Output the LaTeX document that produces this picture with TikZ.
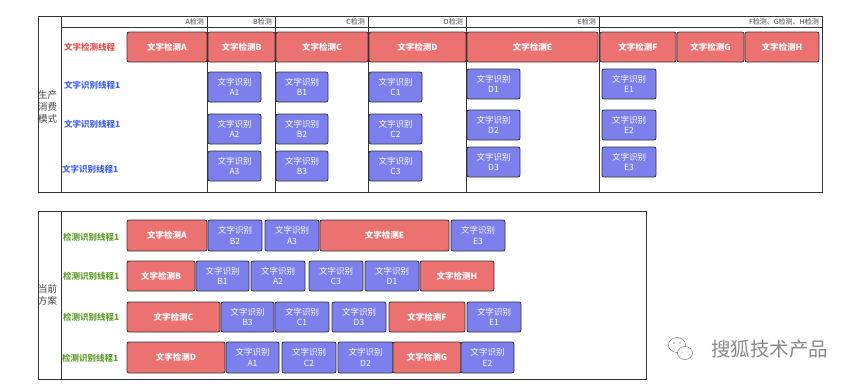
\documentclass[tikz,border=0pt]{standalone}
\usepackage{fontspec}
\setmainfont{Noto Sans CJK SC}
\definecolor{redfill}{HTML}{EC7171}
\definecolor{bluefill}{HTML}{7B80EC}
\definecolor{edge}{HTML}{333333}
\definecolor{redtxt}{HTML}{E85050}
\definecolor{bluetxt}{HTML}{4664F0}
\definecolor{greentxt}{HTML}{64A032}
\definecolor{hdrtxt}{HTML}{444444}
\definecolor{wm}{HTML}{8A8A8A}
\tikzset{
  boxbase/.style={draw=edge, line width=0.8pt, rounded corners=2pt, inner sep=0pt, outer sep=0pt, text=white, align=center, font=\fontsize{8.5}{10.5}\selectfont},
  redbox/.style={boxbase, fill=redfill, font=\fontsize{8.5}{10.5}\selectfont\bfseries},
  bluebox/.style={boxbase, fill=bluefill},
  tbl/.style={draw=edge, line width=0.8pt},
  hdr/.style={anchor=east, inner sep=0pt, text=hdrtxt, font=\fontsize{7}{8}\selectfont},
  rowlbl/.style={anchor=west, inner sep=0pt, font=\fontsize{8.5}{10}\selectfont\bfseries},
  sidelbl/.style={inner sep=0pt, align=center, text=hdrtxt, font=\fontsize{9.5}{12}\selectfont},
}
\newcommand\mybox[7]{%
  \pgfmathsetmacro\bwid{#5-#3}\pgfmathsetmacro\bhgt{#6-#4}%
  \node[#1, minimum width=\bwid pt, minimum height=\bhgt pt] (#2) at ({(#3+#5)/2},{(#4+#6)/2}) {#7};}
\begin{document}
\begin{tikzpicture}[x=1pt,y=-1pt]
\useasboundingbox (0,0) rectangle (864,386);
% ---------- top table ----------
\draw[tbl] (38,16) rectangle (822,192);
\draw[tbl] (61,16) -- (61,192);
\draw[tbl] (61,27) -- (822,27);
\foreach \xx in {207,275,368,466,599} \draw[tbl] (\xx,16) -- (\xx,192);
\node[hdr] (hA) at (204,21.5) {A检测};
\node[hdr] (hB) at (272,21.5) {B检测};
\node[hdr] (hC) at (365,21.5) {C检测};
\node[hdr] (hD) at (463,21.5) {D检测};
\node[hdr] (hE) at (596,21.5) {E检测};
\node[hdr] (hF) at (819,21.5) {F检测、G检测、H检测};
\node[sidelbl] (side1) at (47.5,107) {生产\\消费\\模式};
\node[rowlbl, text=redtxt] (l0) at (64,47) {文字检测线程};
\node[rowlbl, text=bluetxt] (l1) at (64,85) {文字识别线程1};
\node[rowlbl, text=bluetxt] (l2) at (64,124) {文字识别线程1};
\node[rowlbl, text=bluetxt] (l3) at (62,169) {文字识别线程1};
\mybox{redbox}{tA}{127}{32}{207}{62}{文字检测A}
\mybox{redbox}{tB}{208}{32}{275}{62}{文字检测B}
\mybox{redbox}{tC}{276}{32}{368}{62}{文字检测C}
\mybox{redbox}{tD}{369}{32}{466}{62}{文字检测D}
\mybox{redbox}{tE}{467}{32}{598}{62}{文字检测E}
\mybox{redbox}{tF}{600}{32}{676}{62}{文字检测F}
\mybox{redbox}{tG}{677}{32}{744}{62}{文字检测G}
\mybox{redbox}{tH}{745}{32}{819}{62}{文字检测H}
\mybox{bluebox}{tA1}{208}{72}{261}{102}{文字识别\\A1}
\mybox{bluebox}{tA2}{208}{114}{261}{144}{文字识别\\A2}
\mybox{bluebox}{tA3}{208}{151}{261}{181}{文字识别\\A3}
\mybox{bluebox}{tB1}{276}{72}{328}{102}{文字识别\\B1}
\mybox{bluebox}{tB2}{276}{114}{328}{144}{文字识别\\B2}
\mybox{bluebox}{tB3}{276}{151}{328}{181}{文字识别\\B3}
\mybox{bluebox}{tC1}{369}{72}{422}{102}{文字识别\\C1}
\mybox{bluebox}{tC2}{369}{114}{422}{144}{文字识别\\C2}
\mybox{bluebox}{tC3}{369}{151}{422}{181}{文字识别\\C3}
\mybox{bluebox}{tD1}{467}{69}{520}{99}{文字识别\\D1}
\mybox{bluebox}{tD2}{467}{110}{520}{140}{文字识别\\D2}
\mybox{bluebox}{tD3}{467}{147}{520}{177}{文字识别\\D3}
\mybox{bluebox}{tE1}{602}{69}{656}{99}{文字识别\\E1}
\mybox{bluebox}{tE2}{602}{110}{656}{140}{文字识别\\E2}
\mybox{bluebox}{tE3}{602}{147}{656}{177}{文字识别\\E3}
% ---------- bottom table ----------
\draw[tbl] (38,211) rectangle (646,379);
\draw[tbl] (61,211) -- (61,379);
\node[sidelbl] (side2) at (47.5,295) {当前\\方案};
\node[rowlbl, text=greentxt] (g1) at (63,237) {检测识别线程1};
\node[rowlbl, text=greentxt] (g2) at (63,276) {检测识别线程1};
\node[rowlbl, text=greentxt] (g3) at (63,317) {检测识别线程1};
\node[rowlbl, text=greentxt] (g4) at (62,358) {检测识别线程1};
% row 1
\mybox{redbox}{bA}{127}{220}{207}{251}{文字检测A}
\mybox{bluebox}{bB2}{208}{220}{262}{251}{文字识别\\B2}
\mybox{bluebox}{bA3}{265}{220}{319}{251}{文字识别\\A3}
\mybox{redbox}{bE}{320}{220}{449}{251}{文字检测E}
\mybox{bluebox}{bE3}{451}{220}{505}{251}{文字识别\\E3}
% row 2
\mybox{redbox}{bB}{127}{261}{195}{291}{文字检测B}
\mybox{bluebox}{bB1}{196}{261}{249}{291}{文字识别\\B1}
\mybox{bluebox}{bA2}{251}{261}{305}{291}{文字识别\\A2}
\mybox{bluebox}{bC3}{309}{261}{363}{291}{文字识别\\C3}
\mybox{bluebox}{bD1}{365}{261}{419}{291}{文字识别\\D1}
\mybox{redbox}{bH}{420}{261}{494}{291}{文字检测H}
% row 3
\mybox{redbox}{bC}{127}{302}{220}{332}{文字检测C}
\mybox{bluebox}{bB3}{221}{302}{274}{332}{文字识别\\B3}
\mybox{bluebox}{bC1}{275}{302}{329}{332}{文字识别\\C1}
\mybox{bluebox}{bD3}{332}{302}{386}{332}{文字识别\\D3}
\mybox{redbox}{bF}{389}{302}{465}{332}{文字检测F}
\mybox{bluebox}{bE1}{467}{302}{521}{332}{文字识别\\E1}
% row 4
\mybox{redbox}{bD}{127}{342}{225}{373}{文字检测D}
\mybox{bluebox}{bA1}{226}{342}{279}{373}{文字识别\\A1}
\mybox{bluebox}{bC2}{282}{342}{336}{373}{文字识别\\C2}
\mybox{bluebox}{bD2}{338}{342}{393}{373}{文字识别\\D2}
\mybox{redbox}{bG}{393}{342}{461}{373}{文字检测G}
\mybox{bluebox}{bE2}{461}{342}{514}{373}{文字识别\\E2}
% ---------- watermark ----------
\draw[wm, line width=0.6pt, fill=white] (677,345) ellipse (8.5 and 7.5);
\draw[wm, line width=0.6pt, fill=white] (685,353) ellipse (7.5 and 6.5);
\fill[wm] (674,343) circle (0.8) (680,343) circle (0.8) (682,352) circle (0.7) (688,352) circle (0.7);
\node[anchor=west, inner sep=0pt, text=wm, font=\fontsize{19.5}{20}\selectfont] (wmtext) at (711,349) {搜狐技术产品};
\end{tikzpicture}
\end{document}
